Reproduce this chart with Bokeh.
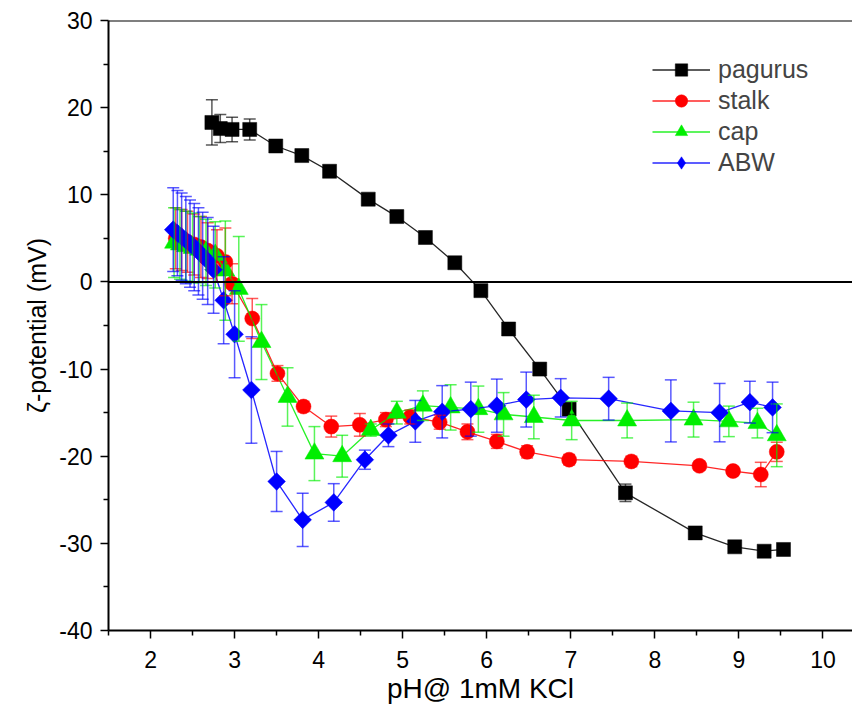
from bokeh.plotting import figure
from bokeh.models import (ColumnDataSource, Whisker, TeeHead, Span, Legend,
                          LegendItem, FixedTicker, Range1d)
from bokeh.embed import file_html
from bokeh.resources import INLINE

# ---------------- data ----------------
pagurus_ph = [2.73, 2.83, 2.97, 3.18, 3.49, 3.80, 4.13, 4.59, 4.93, 5.27, 5.62,
              5.93, 6.26, 6.63, 6.98, 7.65, 8.48, 8.95, 9.30, 9.53]
pagurus_zeta = [18.3, 17.6, 17.5, 17.5, 15.6, 14.5, 12.7, 9.5, 7.5, 5.1, 2.2,
                -1.0, -5.4, -10.0, -14.6, -24.2, -28.8, -30.4, -30.9, -30.7]
pagurus_err = [2.6, 1.6, 1.4, 1.2, 0.4, 0.4, 0.4, 0.4, 0.4, 0.4, 0.4,
               0.4, 0.4, 0.4, 0.6, 1.0, 0.5, 0.4, 0.4, 0.4]

stalk_ph = [2.30, 2.37, 2.44, 2.52, 2.60, 2.68, 2.79, 2.89, 2.97, 3.21, 3.51,
            3.82, 4.15, 4.49, 4.80, 5.09, 5.44, 5.77, 6.12, 6.48, 6.98, 7.72,
            8.53, 8.93, 9.26, 9.45]
stalk_zeta = [5.0, 4.8, 4.6, 4.3, 4.0, 3.6, 3.0, 2.3, -0.2, -4.2, -10.5,
              -14.3, -16.6, -16.4, -15.8, -15.5, -16.1, -17.2, -18.3, -19.5,
              -20.4, -20.6, -21.1, -21.7, -22.1, -19.5]
stalk_err = [3.5, 3.5, 3.5, 3.5, 3.5, 3.2, 3.0, 3.9, 2.3, 2.3, 0.9,
             0.6, 1.2, 1.3, 0.8, 0.8, 0.8, 0.9, 0.8, 0.7, 0.6, 0.6,
             0.5, 0.5, 1.4, 1.1]

cap_ph = [2.28, 2.35, 2.42, 2.50, 2.58, 2.66, 2.77, 2.89, 3.05, 3.32, 3.63,
          3.95, 4.28, 4.62, 4.93, 5.24, 5.57, 5.90, 6.20, 6.56, 7.01, 7.67,
          8.46, 8.88, 9.22, 9.45]
cap_zeta = [4.5, 4.3, 4.1, 3.9, 3.7, 3.4, 3.1, 1.3, -0.8, -6.9, -13.2,
            -19.7, -20.0, -17.0, -15.0, -14.2, -14.4, -14.6, -15.2, -15.5,
            -15.9, -15.9, -15.8, -16.0, -16.2, -17.6]
cap_err = [4.0, 4.0, 4.0, 4.0, 3.8, 3.8, 3.8, 5.7, 6.0, 4.3, 3.35,
           3.1, 2.4, 0.7, 1.3, 1.7, 2.6, 2.65, 2.5, 2.5, 2.2, 2.0,
           2.0, 1.75, 1.7, 3.6]

abw_ph = [2.27, 2.32, 2.37, 2.42, 2.47, 2.52, 2.57, 2.62, 2.68, 2.75, 2.87,
          3.00, 3.20, 3.50, 3.81, 4.18, 4.55, 4.83, 5.15, 5.47, 5.81, 6.12,
          6.47, 6.88, 7.45, 8.19, 8.77, 9.13, 9.40]
abw_zeta = [6.0, 5.6, 5.2, 4.8, 4.4, 4.0, 3.5, 3.0, 2.4, 1.4, -2.1,
            -6.0, -12.4, -22.9, -27.3, -25.3, -20.4, -17.6, -16.0, -14.9,
            -14.6, -14.2, -13.5, -13.3, -13.4, -14.8, -15.0, -13.8, -14.4]
abw_err = [4.8, 4.9, 5.0, 5.0, 5.0, 5.0, 5.0, 5.0, 5.0, 5.0, 5.0,
           5.0, 6.1, 3.45, 3.05, 2.15, 1.1, 1.3, 2.4, 3.0, 3.1, 3.05,
           3.15, 2.2, 2.45, 3.56, 3.35, 2.4, 2.9]

x_ticks = [2, 3, 4, 5, 6, 7, 8, 9, 10]
x_minor = [1.5, 2.5, 3.5, 4.5, 5.5, 6.5, 7.5, 8.5, 9.5]
y_ticks = [-40, -30, -20, -10, 0, 10, 20, 30]
y_minor = [-35, -25, -15, -5, 5, 15, 25]

FONT = "Liberation Sans"

p = figure(width=852, height=715, output_backend="svg", toolbar_location=None,
           x_range=Range1d(1.5, 10.351), y_range=Range1d(-40, 30),
           min_border_left=108, min_border_right=0, min_border_top=20,
           min_border_bottom=85)
p.outline_line_color = None
p.grid.visible = False
p.background_fill_color = "white"

for ax in (p.xaxis[0], p.yaxis[0]):
    ax.axis_line_width = 2
    ax.axis_line_color = "black"
    ax.major_tick_line_width = 1.5
    ax.minor_tick_line_width = 1.5
    ax.major_tick_out = 8
    ax.major_tick_in = 0
    ax.minor_tick_out = 5
    ax.minor_tick_in = 0
    ax.major_label_text_font = FONT
    ax.major_label_text_font_size = "23px"
    ax.major_label_text_color = "black"
    ax.axis_label_text_font = FONT
    ax.axis_label_text_font_style = "normal"
    ax.axis_label_text_color = "black"

p.xaxis.ticker = FixedTicker(ticks=x_ticks, minor_ticks=x_minor)
p.yaxis.ticker = FixedTicker(ticks=y_ticks, minor_ticks=y_minor)
p.yaxis.major_label_overrides = {t: str(t) for t in y_ticks}
p.xaxis.axis_label = "pH@ 1mM KCl"
p.yaxis.axis_label = "ζ-potential (mV)"
p.xaxis.axis_label_text_font_size = "28px"
p.yaxis.axis_label_text_font_size = "25px"
p.xaxis.major_label_standoff = 12
p.yaxis.major_label_standoff = 8
p.xaxis.axis_label_standoff = 2
p.yaxis.axis_label_standoff = 5

p.add_layout(Span(location=0, dimension="width", line_color="black", line_width=2))
p.add_layout(Span(location=30, dimension="width", line_color="black", line_width=2))

series = [
    ("pagurus", pagurus_ph, pagurus_zeta, pagurus_err, "#000000", "square", 14, 0.0),
    ("stalk", stalk_ph, stalk_zeta, stalk_err, "#ff0000", "circle", 15, 0.0),
    ("cap", cap_ph, cap_zeta, cap_err, "#00ee00", "triangle", 19, 0.0),
    ("ABW", abw_ph, abw_zeta, abw_err, "#0000ff", "square", 12.5, 0.785398),
]

items = []
for name, xs, ys, es, color, marker, size, ang in series:
    src = ColumnDataSource(dict(
        x=xs, y=ys,
        upper=[a + b for a, b in zip(ys, es)],
        lower=[a - b for a, b in zip(ys, es)],
    ))
    w = Whisker(source=src, base="x", upper="upper", lower="lower",
                line_color=color, line_alpha=0.65, line_width=1.5,
                upper_head=TeeHead(size=12, line_color=color, line_alpha=0.65, line_width=1.5),
                lower_head=TeeHead(size=12, line_color=color, line_alpha=0.65, line_width=1.5),
                level="glyph")
    p.add_layout(w)
    ln = p.line("x", "y", source=src, line_color=color, line_width=1.3, line_alpha=0.85)
    if ang != 0.0:
        # diamond glyph on the same data, hidden under the rotated squares,
        # used so the legend shows a diamond
        proxy = p.scatter("x", "y", source=src, marker="diamond", size=16,
                          fill_color=color, line_color=color, line_width=0.5)
        sc = p.scatter("x", "y", source=src, marker=marker, size=size, angle=ang,
                       fill_color=color, line_color=color, line_width=0.5)
        items.append(LegendItem(label=name, renderers=[ln, proxy]))
    else:
        sc = p.scatter("x", "y", source=src, marker=marker, size=size,
                       fill_color=color, line_color=color, line_width=0.5)
        items.append(LegendItem(label=name, renderers=[ln, sc]))

legend = Legend(items=items, location=(544, 452), border_line_color=None,
                background_fill_alpha=0, padding=0, margin=0, spacing=0,
                glyph_width=58, glyph_height=31, label_height=31,
                label_standoff=8, label_text_font=FONT,
                label_text_font_size="25px", label_text_baseline="middle")
p.add_layout(legend, "center")

open("out.html", "w").write(file_html(p, INLINE))
